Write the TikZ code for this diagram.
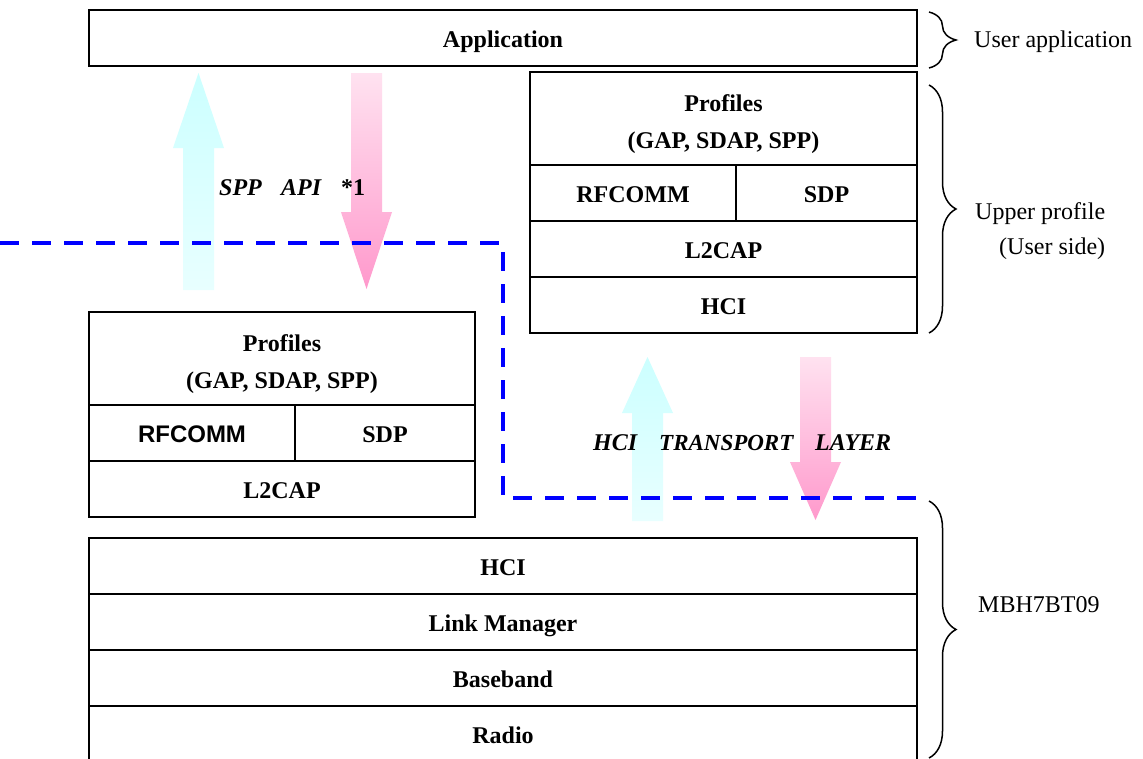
\documentclass[tikz,border=0pt]{standalone}
\usepackage{fontspec}
\setmainfont{Liberation Serif}
\newfontfamily\arialfont{Liberation Sans}
\usetikzlibrary{decorations.pathreplacing}
\definecolor{cyanT}{HTML}{CCFFFF}
\definecolor{cyanB}{HTML}{E8FFFF}
\definecolor{pinkT}{HTML}{FFE2F0}
\definecolor{pinkB}{HTML}{FF99CC}
\definecolor{dashblue}{HTML}{0000FF}
\begin{document}
\begin{tikzpicture}[x=1pt,y=-1pt,
  layer/.style={draw=black, line width=1.5pt, inner sep=0pt, outer sep=0pt, fill=white,
    font=\fontsize{24}{27}\selectfont\bfseries, align=center, text height=19pt, text depth=1pt},
  txt/.style={inner sep=0pt, font=\fontsize{24}{27}\selectfont\bfseries, align=center},
  lbl/.style={font=\fontsize{24}{27}\selectfont, anchor=west, inner sep=0pt},
  ital/.style={font=\fontsize{24}{27}\selectfont\bfseries\itshape, anchor=base west, inner sep=0pt},
  bracedeco/.style={decorate, decoration={brace, amplitude=27pt, aspect=0.5}, line width=1.5pt},
  uparrow/.style={top color=cyanT, bottom color=cyanB, draw=none},
  downarrow/.style={top color=pinkT, bottom color=pinkB, draw=none},
  divider/.style={draw=dashblue, line width=4pt, dash pattern=on 19pt off 13pt}
]
\clip (0,0) rectangle (1143,758);
\fill[white] (0,0) rectangle (1143,758);

% Application
\node[layer, minimum width=828pt, minimum height=56pt] (app) at (503,38) {Application};

% Upper right stack
\node[layer, minimum width=387pt, minimum height=93pt] (rprof) at (723.5,118.5) {};
\node[txt] (rproft) at ([yshift=-6pt]rprof.center) {Profiles\\[10pt](GAP, SDAP, SPP)};
\node[layer, minimum width=206pt, minimum height=56pt] (rrf) at (633,193) {RFCOMM};
\node[layer, minimum width=181pt, minimum height=56pt] (rsdp) at (826.5,193) {SDP};
\node[layer, minimum width=387pt, minimum height=56pt] (rl2) at (723.5,249) {L2CAP};
\node[layer, minimum width=387pt, minimum height=56pt] (rhci) at (723.5,305) {HCI};

% Lower left stack
\node[layer, minimum width=386pt, minimum height=93pt] (lprof) at (282,358.5) {};
\node[txt] (lproft) at ([yshift=-6pt]lprof.center) {Profiles\\[10pt](GAP, SDAP, SPP)};
\node[layer, minimum width=206pt, minimum height=56pt, font=\fontsize{24}{27}\selectfont\arialfont\bfseries] (lrf) at (192,433) {RFCOMM};
\node[layer, minimum width=180pt, minimum height=56pt] (lsdp) at (385,433) {SDP};
\node[layer, minimum width=386pt, minimum height=56pt] (ll2) at (282,489) {L2CAP};

% Bottom stack
\node[layer, minimum width=828pt, minimum height=56pt] (bhci) at (503,566) {HCI};
\node[layer, minimum width=828pt, minimum height=56pt] (blm) at (503,622) {Link Manager};
\node[layer, minimum width=828pt, minimum height=56pt] (bbb) at (503,678) {Baseband};
\node[layer, minimum width=828pt, minimum height=56pt] (brad) at (503,734) {Radio};

% Arrows (left pair)
\path[uparrow] (183,290) -- (183,148) -- (173,148) -- (198.5,73) -- (224,148) -- (214,148) -- (214,290) -- cycle;
\path[downarrow] (351,73) -- (382,73) -- (382,212) -- (392,212) -- (366.5,289) -- (341,212) -- (351,212) -- cycle;

% Arrows (right pair)
\path[uparrow] (632,521) -- (632,413) -- (622,413) -- (647.5,357) -- (673,413) -- (663,413) -- (663,521) -- cycle;
\path[downarrow] (800,357) -- (831,357) -- (831,462) -- (841,462) -- (815.5,520) -- (790,462) -- (800,462) -- cycle;

% Dashed boundary
\coordinate (d0) at (0,243);
\coordinate (d1) at (503,243);
\coordinate (d2) at (503,498);
\coordinate (d3) at (928,498);
\draw[divider] (d0) -- (d1) -- (d2) -- (d3);

% API labels
\node[ital] (spp) at (219,195) {SPP};
\node[ital] (api) at (281,195) {API};
\node[ital, font=\fontsize{24}{27}\selectfont\bfseries] (star) at (341,195) {*1};
\node[ital] (hcit) at (593,450) {HCI};
\node[ital, font=\fontsize{23}{27}\selectfont\bfseries\itshape] (trans) at (659,450) {TRANSPORT};
\node[ital] (layr) at (815,450) {LAYER};

% Braces
\coordinate (b1t) at (929,12);
\coordinate (b1b) at (929,68);
\draw[bracedeco] (b1t) -- (b1b);
\node[lbl] (ua) at (974,42) {User application};

\coordinate (b2t) at (929,85);
\coordinate (b2b) at (929,333);
\draw[bracedeco] (b2t) -- (b2b);
\node[lbl] (up) at (975,214) {Upper profile};
\node[lbl] (us) at (999,249) {(User side)};

\coordinate (b3t) at (929,501);
\coordinate (b3b) at (929,758);
\draw[bracedeco] (b3t) -- (b3b);
\node[lbl] (mbh) at (978,605) {MBH7BT09};
\end{tikzpicture}
\end{document}
